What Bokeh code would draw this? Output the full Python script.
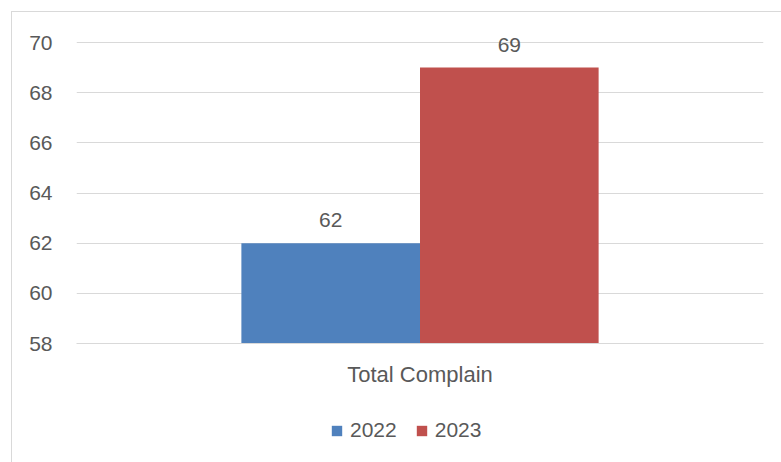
from bokeh.plotting import figure
from bokeh.layouts import column
from bokeh.models import ColumnDataSource, Legend, LegendItem, LabelSet, Range1d, FactorRange, FixedTicker
from bokeh.core.properties import value
from bokeh.transform import dodge
from bokeh.embed import file_html
from bokeh.resources import INLINE

categories = ["Total Complain"]
series_names = ["2022", "2023"]
values_2022 = [62]
values_2023 = [69]
y_ticks = [58, 60, 62, 64, 66, 68, 70]
colors = ["#4F81BD", "#C0504D"]

FONT = "Liberation Sans"
TXT = "#595959"
GRID = "#d9d9d9"
W = 769

p = figure(x_range=FactorRange(*categories), y_range=Range1d(58, 70.4),
           width=W, height=388, output_backend="svg", toolbar_location=None,
           min_border_left=64, min_border_top=20, min_border_right=18, min_border_bottom=57)
p.outline_line_color = None
p.background_fill_color = "white"

src = ColumnDataSource(dict(cat=categories, v2022=values_2022, v2023=values_2023,
                            t2022=[str(v) for v in values_2022],
                            t2023=[str(v) for v in values_2023]))

off = 0.13
r1 = p.vbar(x=dodge("cat", -off, range=p.x_range), top="v2022", bottom=58, width=2 * off,
            source=src, fill_color=colors[0], line_color=None)
r2 = p.vbar(x=dodge("cat", off, range=p.x_range), top="v2023", bottom=58, width=2 * off,
            source=src, fill_color=colors[1], line_color=None)

for xo, col in [(-off, "2022"), (off, "2023")]:
    lab = LabelSet(x=dodge("cat", xo, range=p.x_range), y="v" + col, text="t" + col, source=src,
                   text_align="center", text_baseline="alphabetic", y_offset=16,
                   text_font=value(FONT), text_font_size=value("21px"), text_color=TXT)
    p.add_layout(lab)

p.yaxis.ticker = FixedTicker(ticks=y_ticks)
p.yaxis.axis_line_color = None
p.yaxis.major_tick_line_color = None
p.yaxis.minor_tick_line_color = None
p.yaxis.major_label_standoff = 18
p.yaxis.major_label_text_font = FONT
p.yaxis.major_label_text_font_size = "21px"
p.yaxis.major_label_text_color = TXT

p.xaxis.axis_line_color = GRID
p.xaxis.major_tick_line_color = None
p.xaxis.minor_tick_line_color = None
p.xaxis.major_label_standoff = 12
p.xaxis.major_label_text_font = FONT
p.xaxis.major_label_text_font_size = "22px"
p.xaxis.major_label_text_color = TXT

p.xgrid.grid_line_color = None
p.ygrid.grid_line_color = GRID
p.ygrid.grid_line_width = 1

# legend strip below the chart (its renderers are zero-size stand-ins for the two series)
lg = figure(width=W, height=62, output_backend="svg", toolbar_location=None,
            x_range=Range1d(0, 1), y_range=Range1d(0, 1),
            x_axis_location=None, y_axis_location=None,
            min_border_left=0, min_border_right=0, min_border_top=0, min_border_bottom=0)
lg.outline_line_color = None
lg.xgrid.grid_line_color = None
lg.ygrid.grid_line_color = None
lrs = [lg.vbar(x=[0.5], bottom=[0], top=[0], width=0, fill_color=c, line_color=None)
       for c in colors]

legend = Legend(items=[LegendItem(label=n, renderers=[r]) for n, r in zip(series_names, lrs)],
                orientation="horizontal", location=(254, 20),
                glyph_width=13, glyph_height=13, label_standoff=7, spacing=18,
                label_text_font=FONT, label_text_font_size="21px", label_text_color=TXT,
                border_line_color=None, background_fill_alpha=0, padding=0, margin=0)
lg.add_layout(legend)

layout = column(p, lg, spacing=0)
layout.styles = {"margin-left": "11px", "margin-top": "11px",
                 "border-left": "1px solid #d9d9d9", "border-top": "1px solid #d9d9d9"}

open("out.html", "w").write(file_html(layout, INLINE))
